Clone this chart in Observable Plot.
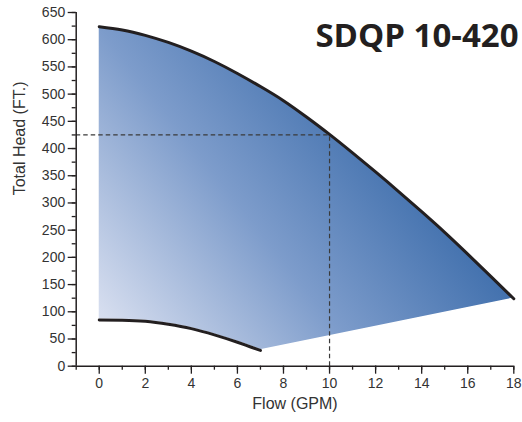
<!DOCTYPE html>
<html>
<head>
<meta charset="utf-8">
<script src="https://cdn.jsdelivr.net/npm/d3@7"></script>
<script src="https://cdn.jsdelivr.net/npm/@observablehq/plot@0.6"></script>
<style>
  html, body { margin: 0; padding: 0; background: #fff; }
</style>
</head>
<body>
<div id="chart"></div>
<script>
// Upper curve (max head)
const flowMax = [0, 1, 2, 3, 4, 5, 6, 7, 8, 9, 10, 11, 12, 13, 14, 15, 16, 17, 18];
const headMax = [624, 618, 608, 595, 579, 560, 538, 514, 488, 458, 426, 392, 357, 321, 284, 246, 206, 165, 124];
// Lower curve (min head)
const flowMin = [0, 1, 2, 3, 4, 5, 6, 7];
const headMin = [85, 84.5, 82.5, 77, 69, 57.5, 44, 29];
// Duty point
const dutyFlow = 10;
const dutyHead = 425;
// Ticks
const xMajor = [0, 2, 4, 6, 8, 10, 12, 14, 16, 18];
const xMinor = d3.range(-1, 19, 1);
const yMajor = d3.range(0, 651, 50);
const yMinor = d3.range(0, 651, 25);
const xDomain = [-1, 18];
const yDomain = [0, 650];

const upper = flowMax.map((x, i) => ({x, y: headMax[i]}));
const lower = flowMin.map((x, i) => ({x, y: headMin[i]}));
const edge = [lower[lower.length - 1], upper[upper.length - 1]];

const ink = "#231f20";

const chart = Plot.plot({
  width: 522,
  height: 422,
  marginLeft: 75.7,
  marginRight: 8.7,
  marginTop: 12,
  marginBottom: 56.3,
  x: {domain: xDomain},
  y: {domain: yDomain},
  style: {fontFamily: "'Liberation Sans', Arial, sans-serif", fontSize: "14px", color: "#333", background: "#fff"},
  marks: [
    Plot.areaY(upper, {x: "x", y1: 0, y2: "y", fill: "url(#headGrad)", curve: "natural"}),
    Plot.areaY(lower, {x: "x", y1: 0, y2: "y", fill: "#fff", stroke: "#fff", strokeWidth: 2, curve: "natural"}),
    Plot.areaY(edge, {x: "x", y1: 0, y2: "y", fill: "#fff", stroke: "#fff", strokeWidth: 1.5}),
    Plot.line(upper, {x: "x", y: "y", stroke: ink, strokeWidth: 3, curve: "natural", strokeLinecap: "round"}),
    Plot.line(lower, {x: "x", y: "y", stroke: ink, strokeWidth: 3, curve: "natural", strokeLinecap: "round"}),
    Plot.ruleY([dutyHead], {x1: xDomain[0], x2: dutyFlow, stroke: "#3a3a3a", strokeWidth: 1.2, strokeDasharray: "4.5,3"}),
    Plot.ruleX([dutyFlow], {y1: 0, y2: dutyHead, stroke: "#3a3a3a", strokeWidth: 1.2, strokeDasharray: "4.5,3"}),
    Plot.axisY(yMinor, {tickSize: 4, text: null, label: null, stroke: ink, strokeWidth: 1.3}),
    Plot.axisY(yMajor, {tickSize: 8, tickPadding: 3, label: null, stroke: ink, strokeWidth: 1.3, fontSize: 14}),
    Plot.axisX(xMinor, {tickSize: 4, text: null, label: null, stroke: ink, strokeWidth: 1.3}),
    Plot.axisX(xMajor, {tickSize: 8, tickPadding: 4, label: null, stroke: ink, strokeWidth: 1.3, fontSize: 14}),
    Plot.ruleX([xDomain[0]], {y1: yDomain[0], y2: yDomain[1], stroke: ink, strokeWidth: 1.5}),
    Plot.ruleY([yDomain[0]], {x1: xDomain[0], x2: xDomain[1], stroke: ink, strokeWidth: 1.5}),
    Plot.text(["Total Head (FT.)"], {frameAnchor: "left", rotate: -90, dx: -56, dy: 6, fontSize: 16, fill: "#333"}),
    Plot.text(["Flow (GPM)"], {frameAnchor: "bottom", dy: 43, fontSize: 16, fill: "#333"}),
    Plot.text(["SDQP 10-420"], {frameAnchor: "top-right", textAnchor: "end", lineAnchor: "top", dx: 4.7, dy: 11, fontSize: 33, fontWeight: "bold", fontFamily: "'Open Sans', sans-serif", fill: ink})
  ]
});

const xs = chart.scale("x"), ys = chart.scale("y");
const grad = d3.select(chart).insert("defs", ":first-child")
  .append("linearGradient")
  .attr("id", "headGrad")
  .attr("gradientUnits", "userSpaceOnUse")
  .attr("x1", xs.apply(0)).attr("y1", ys.apply(0))
  .attr("x2", xs.apply(13)).attr("y2", ys.apply(435));
[[0, "#e4e9f5"], [0.1, "#d4dcee"], [0.55, "#7d9ccb"], [1, "#3d6dab"]].forEach(([o, c]) => {
  grad.append("stop").attr("offset", o).attr("stop-color", c);
});

document.getElementById("chart").appendChild(chart);
</script>
</body>
</html>
